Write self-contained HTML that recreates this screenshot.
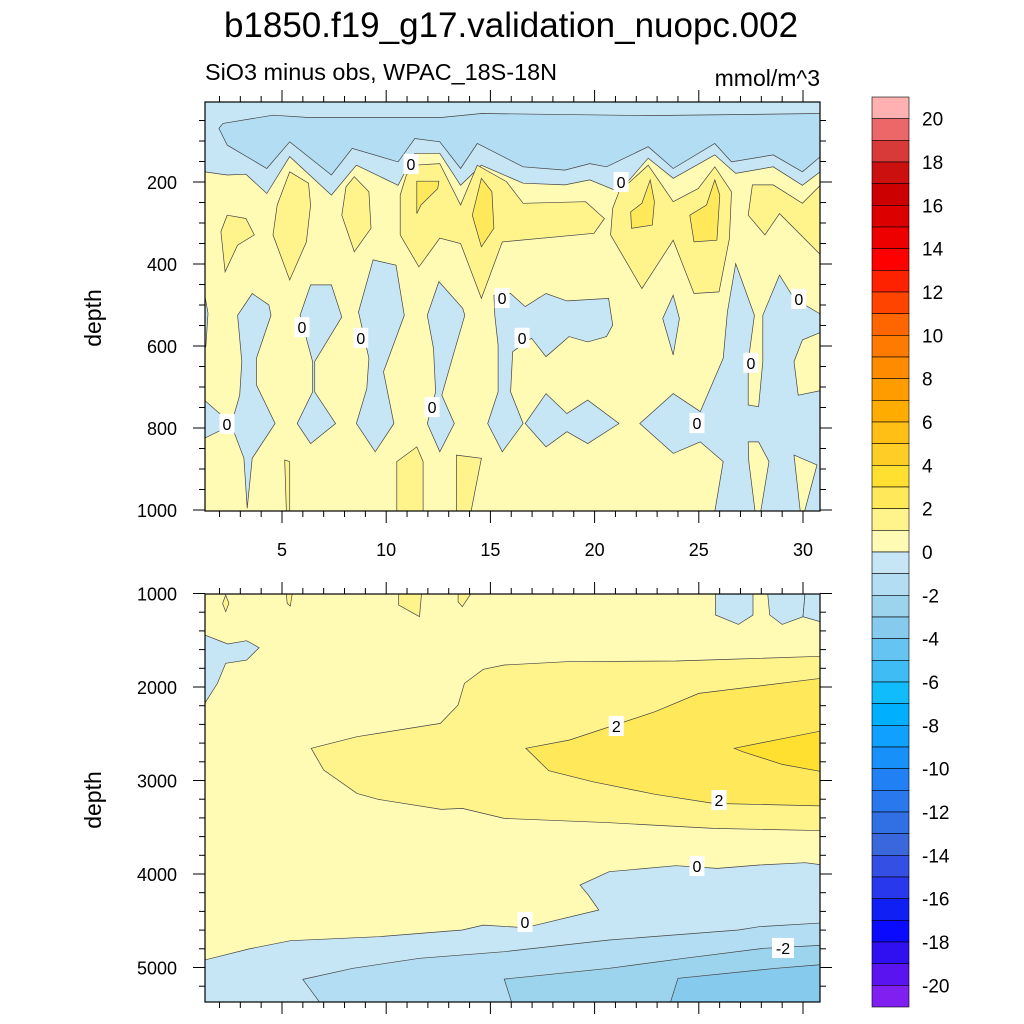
<!DOCTYPE html>
<html><head><meta charset="utf-8">
<style>
body{margin:0;background:#fff;}
svg{display:block;font-family:"Liberation Sans",sans-serif;}
</style></head>
<body>
<svg id="fig" width="1024" height="1024" viewBox="0 0 1024 1024">
<text x="511" y="37" font-size="35" text-anchor="middle">b1850.f19_g17.validation_nuopc.002</text>
<text x="205" y="80" font-size="23" textLength="352" lengthAdjust="spacingAndGlyphs">SiO3 minus obs, WPAC_18S-18N</text>
<text x="820" y="86" font-size="23" text-anchor="end">mmol/m^3</text>
<text transform="translate(101,318) rotate(-90)" font-size="23" text-anchor="middle">depth</text>
<text transform="translate(101,800) rotate(-90)" font-size="23" text-anchor="middle">depth</text>
<g id="top"></g><g id="bot"></g><g id="cbar"></g>
</svg>
<script>
// ---- data ----
const C = {y0:'#fffbb4',y1:'#fff48c',y2:'#ffe95a',y3:'#ffdf30',b0:'#c6e6f6',b1:'#b2ddf2',b2:'#9cd4ee',b3:'#86caee'};
const topBlue0Boundary = [[30.93,171],[29.97,208],[28.57,163],[26.77,179],[25.77,134],[23.77,191],[22.57,142],[21.17,224],[19.77,195],[18.57,207],[16.57,203],[14.57,159],[13.57,208],[12.57,130],[11.37,130],[10.57,208],[8.57,159],[7.37,232],[5.37,138],[4.27,228],[3.27,181],[2.37,183],[1.27,175]];
const topBlue1 = [[1.97,69],[2.17,57],[4.57,37],[6.37,43],[12.57,43],[14.57,33],[22.57,38],[30.93,33],[30.93,134],[29.97,175],[28.57,134],[26.57,151],[25.77,106],[23.77,167],[22.57,114],[20.57,163],[19.77,155],[18.57,171],[16.57,163],[14.37,106],[13.57,167],[12.57,102],[11.37,94],[10.57,151],[8.37,118],[7.37,183],[5.37,102],[4.27,167],[2.37,110]];
const topYellow1 = [
 [[2.37,281],[3.27,289],[3.67,329],[2.87,354],[2.27,419],[2.07,321]],
 [[5.37,175],[6.27,203],[6.37,256],[6.17,346],[5.37,439],[4.57,329],[4.77,256]],
 [[8.47,187],[9.17,224],[9.27,313],[8.47,370],[7.87,281],[8.07,212]],
 [[10.97,183],[11.37,159],[12.57,155],[13.57,256],[14.37,159],[15.77,199],[16.57,252],[19.57,248],[20.47,289],[19.97,325],[15.57,346],[14.57,484],[13.57,350],[12.57,337],[11.57,407],[10.67,329],[10.67,232]],
 [[21.17,224],[22.57,159],[23.77,248],[24.97,216],[25.77,163],[26.57,224],[26.47,338],[25.97,468],[24.77,472],[23.77,342],[22.27,460],[20.77,329],[20.87,264]],
 [[27.57,207],[28.57,207],[29.97,252],[30.93,203],[30.93,382],[28.87,277],[28.17,329],[27.37,281]],
 [[5.13,878],[5.37,882],[5.37,1004],[5.21,1004]],
 [[10.51,882],[11.47,846],[11.77,882],[11.77,1004],[10.51,1004]],
 [[13.37,866],[14.57,874],[14.07,1004],[13.37,1004]]
];
const topYellow2 = [
 [[11.47,198],[12.53,198],[12.47,216],[11.67,256],[11.47,277]],
 [[14.57,191],[15.07,224],[15.17,313],[14.57,358],[14.13,281]],
 [[22.67,195],[22.87,248],[22.77,305],[21.77,313],[21.73,273],[22.27,252]],
 [[25.77,195],[26.01,232],[25.87,342],[24.77,346],[24.57,281],[25.37,256]]
];
const topBlue0Patches = [
 [[1.27,470],[1.45,520],[1.35,600],[1.27,610]],
 [[2.87,525],[3.57,472],[4.37,500],[4.47,525],[3.77,630],[3.77,695],[4.67,789],[3.57,874],[3.33,996],[3.17,874],[2.57,793],[1.27,825],[1.27,732],[2.57,790],[2.97,720],[3.07,638]],
 [[6.37,451],[7.37,451],[7.87,529],[6.57,638],[6.57,712],[7.57,789],[6.37,838],[5.73,789],[6.47,712],[6.47,638],[5.87,525]],
 [[9.37,390],[10.47,403],[10.87,525],[9.87,663],[10.37,789],[9.47,858],[8.57,789],[9.07,704],[9.17,630],[8.67,517]],
 [[12.53,443],[13.67,508],[13.77,525],[13.17,630],[12.67,720],[13.27,789],[12.57,858],[11.97,789],[12.37,712],[12.27,606],[11.97,525]],
 [[15.17,476],[15.97,472],[16.67,504],[17.67,472],[18.67,490],[20.67,484],[20.87,549],[20.57,577],[19.67,590],[18.77,577],[17.67,626],[16.97,581],[16.07,614],[15.97,712],[16.57,789],[15.57,858],[14.87,789],[15.37,712],[15.37,598],[15.21,525]],
 [[17.67,716],[18.67,765],[19.67,732],[21.17,789],[19.67,838],[18.67,809],[17.67,846],[16.67,789]],
 [[23.77,476],[24.07,533],[23.77,622],[23.27,533]],
 [[22.17,789],[23.77,716],[25.07,760],[26.17,630],[26.37,517],[26.77,399],[27.67,525],[27.37,638],[27.37,744],[27.87,748],[28.07,638],[28.07,525],[28.87,427],[29.57,484],[30.93,525],[30.93,565],[29.97,585],[29.57,638],[29.77,720],[30.93,708],[30.93,1004],[25.77,1004],[26.17,882],[25.07,834],[23.77,862]]
];
const topYellow0Patches = [
 [[27.37,834],[27.87,834],[28.37,882],[27.97,1004],[27.7,1004],[27.4,882]],
 [[29.57,866],[30.67,890],[30.07,1004],[29.87,1004]]
];
const topLabels = [[11.19,156],[21.27,200],[15.56,483],[16.52,580],[5.96,554],[8.78,580],[12.2,749],[2.36,790],[24.91,788],[27.5,641],[29.8,485]];
const topLabelText = ['0','0','0','0','0','0','0','0','0','0','0'];

const botYellow1 = [[6.4,2656],[8.6,2532],[12.6,2389],[13.45,2193],[13.75,1961],[14.66,1811],[15.66,1765],[18.67,1729],[23.9,1722],[26.9,1701],[31.1,1669],[31.1,3537],[25.7,3512],[22.7,3476],[20.7,3451],[15.66,3405],[13.65,3298],[12.65,3309],[9.63,3202],[8.6,3138],[7.0,2888]];
const botYellow2 = [[16.7,2656],[18.8,2567],[22.9,2264],[25.0,2068],[31.1,1901],[31.1,3273],[25.7,3245],[22.9,3148],[19.9,3013],[17.8,2895]];
const botYellow3 = [[26.7,2656],[29.1,2549],[31.1,2460],[31.1,2913],[29.0,2828],[27.1,2692]];
const botBlue0 = [[1.29,4920],[3.4,4802],[5.4,4713],[9.63,4671],[13.65,4599],[14.66,4546],[16.67,4574],[20.2,4385],[19.7,4225],[19.3,4118],[20.7,3975],[23.9,3911],[25.9,3940],[27.9,3904],[30.1,3879],[31.1,3908],[31.1,5400],[1.29,5400]];
const botBlue1 = [[6.0,5127],[8.4,5009],[11.6,4902],[15.66,4831],[20.7,4706],[26.9,4599],[27.9,4564],[31.1,4521],[31.1,5400],[6.9,5400]];
const botBlue2 = [[15.66,5124],[20.7,5009],[24.3,4902],[28.1,4795],[31.1,4760],[31.1,5400],[16.06,5400]];
const botBlue3 = [[24.0,5116],[28.7,5009],[31.1,4966],[31.1,5400],[23.6,5400]];
const botBlue0Patches = [
 [[1.29,1444],[2.4,1540],[3.3,1505],[3.9,1580],[3.3,1712],[2.3,1747],[1.9,1961],[1.29,2175]],
 [[25.8,990],[25.8,1230],[26.9,1330],[27.6,1230],[27.6,990]],
 [[28.3,990],[28.4,1230],[29.0,1330],[30.0,1248],[30.1,990]],
 [[30.1,990],[31.1,990],[31.1,1319],[30.0,1248]]
];
const botYellow1Patches = [
 [[10.6,990],[11.7,990],[11.6,1248],[10.6,1123]],
 [[13.45,990],[14.1,990],[13.65,1141],[13.45,1088]],
 [[5.2,990],[5.5,990],[5.4,1134],[5.25,1106]],
 [[2.3,1016],[2.45,1106],[2.3,1195],[2.15,1106]]
];
const botLabels = [[21.04,2417],[25.97,3209],[24.91,3914],[16.66,4513],[29.04,4791]];
const botLabelText = ['2','2','0','0','-2'];

const xTicks = [5,10,15,20,25,30];
const topYTicks = [200,400,600,800,1000];
const botYTicks = [1000,2000,3000,4000,5000];
const cbarLabels = [20,18,16,14,12,10,8,6,4,2,0,-2,-4,-6,-8,-10,-12,-14,-16,-18,-20];
const cbarColors = ['#ffb0b0','#ec6868','#d83a3a','#cc1010','#cc0000','#dd0000','#ee0000','#ff0000','#ff2200','#ff4400','#ff6600','#ff7a00','#ff8c00','#ff9c00','#ffac00','#ffbf14','#ffce26','#ffdf30','#ffe95a','#fff48c','#fffbb4',
 '#c6e6f6','#b2ddf2','#9cd4ee','#86caee','#66c4f2','#40bcf4','#10bcfc','#00b0ff','#10a0ff','#1890fa','#2080f4','#2a78ee','#3070e4','#3a68dc','#3450e4','#2838ec','#1020f4','#0a0aff','#3010f0','#5a14f0','#8020f0'];

// ---- axes ----
const NS='http://www.w3.org/2000/svg';
const L=205,R=820;
const xs = v => 177.8 + 20.84*v;
const XMIN=(L-177.8)/20.84, XMAX=(R-177.8)/20.84;
const topY = d => 182 + (d-200)*0.41;
const botY = d => 593.5 + (d-1000)*0.0935;
const TOP=[102,511], BOT=[594,1002];

function mk(tag, attrs, parent){const e=document.createElementNS(NS,tag);for(const k in attrs)e.setAttribute(k,attrs[k]);parent.appendChild(e);return e;}
function pts(arr, ys){return arr.map(p=>xs(p[0]).toFixed(1)+','+ys(p[1]).toFixed(1)).join(' ');}

function panel(g, id, ys, range){
  const defs=mk('defs',{},g);
  const cp=mk('clipPath',{id:'clip'+id},defs);
  mk('rect',{x:L,y:range[0],width:R-L,height:range[1]-range[0]},cp);
  return mk('g',{'clip-path':'url(#clip'+id+')'},g);
}
function poly(parent, arr, ys, fill, name){
  const p=mk('polygon',{points:pts(arr,ys),fill:fill,stroke:'#444','stroke-width':0.7},parent);
  
  
}
function frame(g, ys, range, yTicks, minorStep, showX, name){
  const f=mk('rect',{x:L,y:range[0],width:R-L,height:range[1]-range[0],fill:'none',stroke:'#000','stroke-width':1.2},g);
  
  
  for(let v=Math.ceil(XMIN);v<=XMAX;v++){
    const major=v%5===0, len=major?12:6, x=xs(v);
    mk('line',{x1:x,x2:x,y1:range[1],y2:range[1]+len,stroke:'#000','stroke-width':1},g);
    mk('line',{x1:x,x2:x,y1:range[0],y2:range[0]-len,stroke:'#000','stroke-width':1},g);
  }
  if(showX){ xTicks.forEach(v=>{const t=mk('text',{x:xs(v),y:range[1]+45,'font-size':18,'text-anchor':'middle'},g);t.textContent=v;
    
    });}
  for(let d=minorStep; d<=yTicks[yTicks.length-1]+minorStep*10; d+=minorStep){
    const y=ys(d); if(y<range[0]-0.5||y>range[1]+0.5) continue;
    const major=yTicks.includes(d), len=major?12:6;
    mk('line',{x1:L,x2:L-len,y1:y,y2:y,stroke:'#000','stroke-width':1},g);
    mk('line',{x1:R,x2:R+len,y1:y,y2:y,stroke:'#000','stroke-width':1},g);
  }
  yTicks.forEach(d=>{const t=mk('text',{x:177,y:ys(d)+7,'font-size':18,'text-anchor':'end'},g);t.textContent=d;
    
    });
}
function labels(g, arr, txt, ys){
  arr.forEach((p,i)=>{
    const x=xs(p[0]), y=ys(p[1]), w=txt[i].length>1?22:15;
    mk('rect',{x:x-w/2,y:y-10,width:w,height:20,fill:'#fff'},g);
    const t=mk('text',{x:x,y:y+6,'font-size':16,'text-anchor':'middle'},g);
    t.textContent=txt[i];
    
    
  });
}

// top panel
const gt=document.getElementById('top');

const it=panel(gt,'t',topY,TOP);
mk('rect',{x:L,y:TOP[0],width:R-L,height:TOP[1]-TOP[0],fill:C.y0},it);
poly(it,[[XMIN-1,0],[XMAX+1,0]].concat(topBlue0Boundary),topY,C.b0,'blue-region-top');
poly(it,topBlue1,topY,C.b1,'dark-blue-band');
topYellow1.forEach(a=>poly(it,a,topY,C.y1,'yellow-1-2-region'));
topYellow2.forEach(a=>poly(it,a,topY,C.y2,'yellow-2-3-region'));
topBlue0Patches.forEach(a=>poly(it,a,topY,C.b0,'blue-0-region'));
topYellow0Patches.forEach(a=>poly(it,a,topY,C.y0,'yellow-0-region'));
labels(it,topLabels,topLabelText,topY);
frame(gt,topY,TOP,topYTicks,50,true,'top-panel');

// bottom panel
const gb=document.getElementById('bot');

const ib=panel(gb,'b',botY,BOT);
mk('rect',{x:L,y:BOT[0],width:R-L,height:BOT[1]-BOT[0],fill:C.y0},ib);
poly(ib,botYellow1,botY,C.y1,'yellow-1-2-region');
poly(ib,botYellow2,botY,C.y2,'yellow-2-3-region');
poly(ib,botYellow3,botY,C.y3,'yellow-3-4-region');
poly(ib,botBlue0,botY,C.b0,'blue-0-region');
poly(ib,botBlue1,botY,C.b1,'blue-1-region');
poly(ib,botBlue2,botY,C.b2,'blue-2-region');
poly(ib,botBlue3,botY,C.b3,'blue-3-region');
botBlue0Patches.forEach(a=>poly(ib,a,botY,C.b0,'blue-0-patch'));
botYellow1Patches.forEach(a=>poly(ib,a,botY,C.y1,'yellow-1-patch'));
labels(ib,botLabels,botLabelText,botY);
frame(gb,botY,BOT,botYTicks,200,false,'bottom-panel');

// colorbar
const gc=document.getElementById('cbar');


const CB0=97, CBH=910/cbarColors.length;
cbarColors.forEach((c,i)=>{
  const r=mk('rect',{x:872,y:CB0+i*CBH,width:37,height:CBH,fill:c,stroke:'#000','stroke-width':0.6},gc);
  
  
});
cbarLabels.forEach((v,i)=>{
  const t=mk('text',{x:922,y:CB0+(2*i+1)*CBH+7,'font-size':19},gc);
  t.textContent=v;
  
  
});
</script>
</body></html>
